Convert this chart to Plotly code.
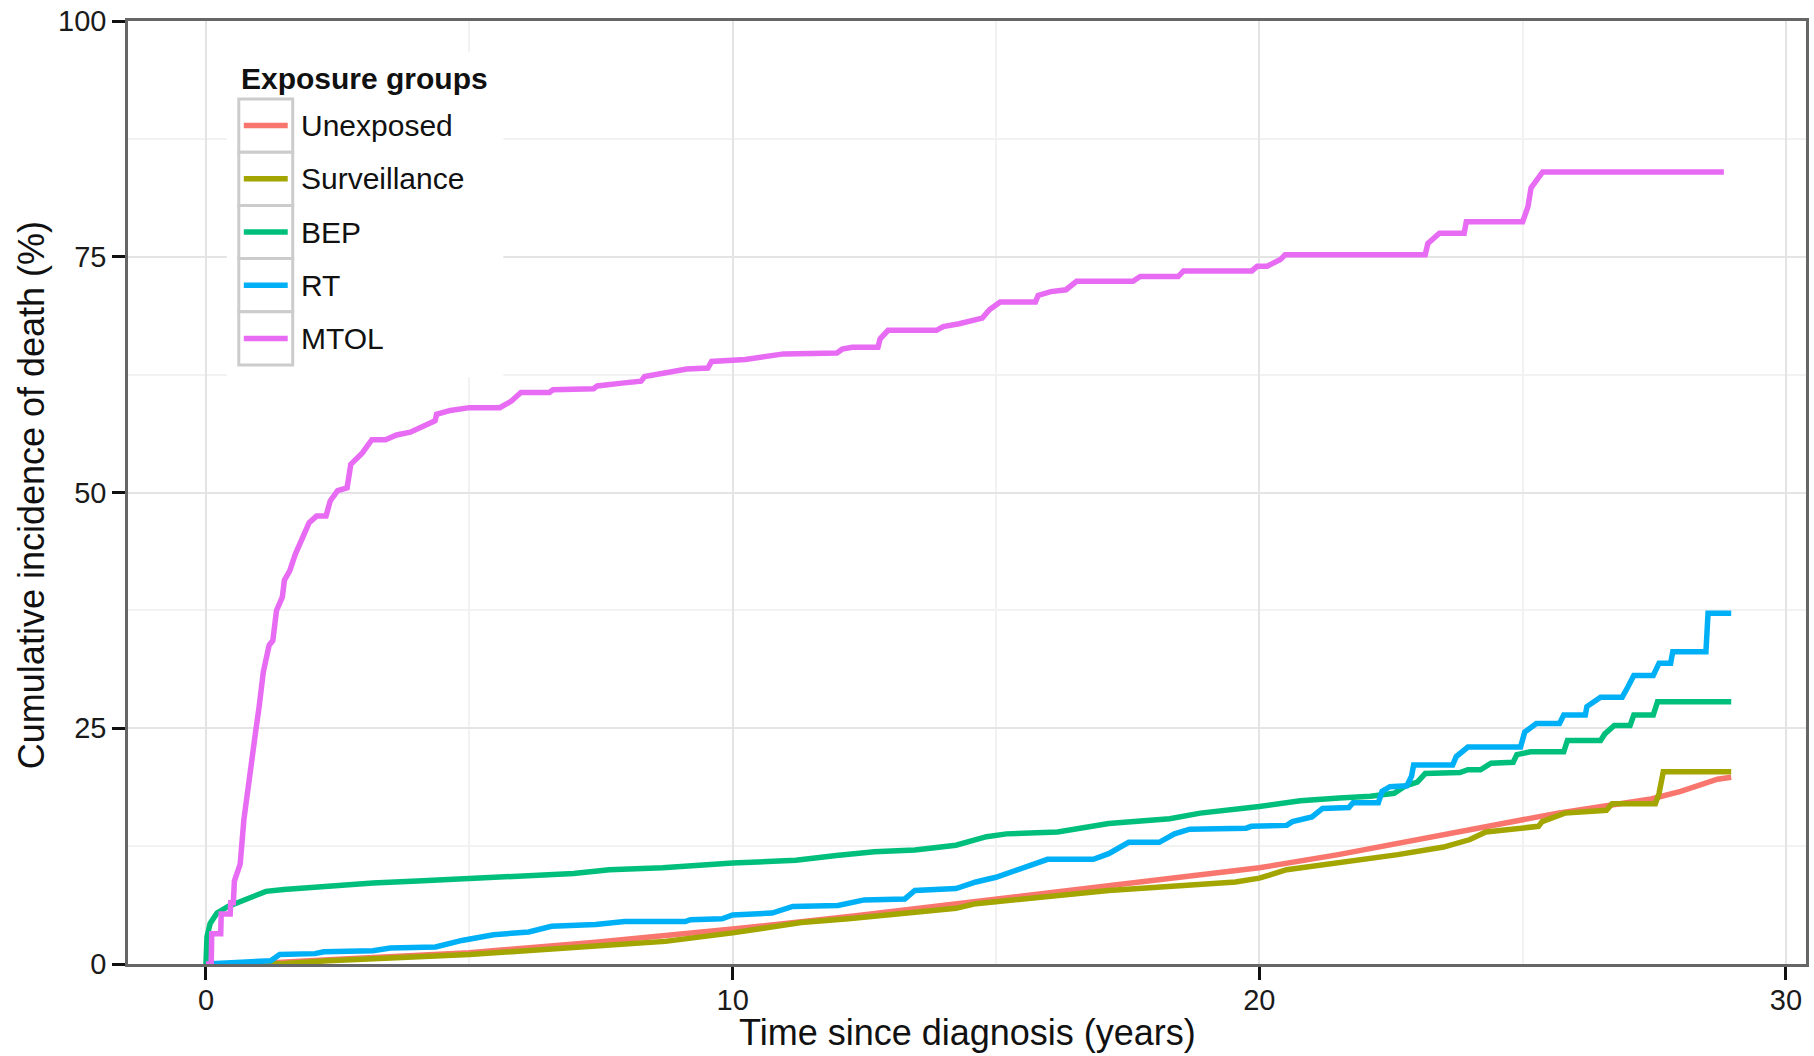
import plotly.graph_objects as go

# ---------------- data ----------------
groups = ["Unexposed", "Surveillance", "BEP", "RT", "MTOL"]
colors = ["#F8766D", "#A3A500", "#00BF7D", "#00B0F6", "#E76BF3"]

unexposed_t = [0, 1.0, 2.33, 5.0, 7.4, 10.0, 12.3, 15.0, 17.14, 20.0, 21.5, 22.6, 24.0,
               25.0, 25.67, 26.5, 27.44, 28.0, 28.7, 28.96]
unexposed_v = [0, 0.05, 0.45, 1.2, 2.3, 3.7, 5.1, 6.9, 8.3, 10.2, 11.6, 12.8, 14.2,
               15.3, 16.0, 16.7, 17.5, 18.3, 19.6, 19.8]

surveillance_t = [0, 1.5, 2.33, 5.0, 7.4, 8.72, 10.0, 11.3, 12.2, 14.24, 14.62, 17.14, 19.55,
                  20.0, 20.52, 21.97, 22.63, 23.5, 24.0, 24.3, 24.63, 25.3, 25.37, 25.8,
                  26.59, 26.7, 27.52, 27.59, 27.67, 28.96]
surveillance_v = [0, 0.05, 0.35, 1.0, 1.9, 2.4, 3.3, 4.4, 4.8, 5.9, 6.4, 7.8, 8.7,
                  9.1, 10.0, 11.0, 11.6, 12.4, 13.2, 14.0, 14.2, 14.6, 15.1, 16.0,
                  16.3, 17.0, 17.0, 18.1, 20.4, 20.4]

bep_t = [0, 0.02, 0.08, 0.21, 0.42, 0.63, 0.89, 1.14, 1.48, 2.33, 3.17, 4.02, 5.0, 6.13, 6.98,
         7.66, 8.67, 10.0, 11.2, 11.97, 12.69, 13.46, 14.24, 14.82, 15.2, 16.17, 17.14, 18.3,
         18.88, 20.0, 20.78, 21.52, 22.11, 22.56, 22.78, 23.0, 23.15, 23.81, 23.96, 24.2, 24.4,
         24.82, 24.89, 25.15, 25.78, 25.85, 26.48, 26.56, 26.74, 27.04, 27.11, 27.48, 27.56, 28.96]
bep_v = [0, 2.9, 4.3, 5.4, 6.1, 6.6, 7.1, 7.7, 7.9, 8.3, 8.6, 8.8, 9.1, 9.4, 9.6,
         10.0, 10.2, 10.7, 11.0, 11.5, 11.9, 12.1, 12.6, 13.5, 13.8, 14.0, 14.9, 15.4,
         16.0, 16.7, 17.3, 17.6, 17.8, 18.1, 18.9, 19.3, 20.2, 20.3, 20.6, 20.6, 21.3,
         21.4, 22.2, 22.5, 22.5, 23.7, 23.7, 24.4, 25.3, 25.3, 26.4, 26.4, 27.8, 27.8]

rt_t = [0, 1.23, 1.4, 2.07, 2.24, 3.17, 3.5, 4.36, 4.86, 5.46, 6.13, 6.56, 7.4, 7.95, 9.1, 9.2,
        9.8, 10.0, 10.75, 11.14, 12.0, 12.5, 13.27, 13.46, 14.24, 14.62, 15.0, 15.3, 15.59,
        15.98, 16.85, 17.14, 17.52, 18.1, 18.39, 18.68, 19.75, 19.85, 20.52, 20.63, 21.0, 21.2,
        21.7, 21.78, 22.26, 22.33, 22.48, 22.8, 22.89, 22.93, 23.67, 23.74, 23.96, 24.96, 25.04,
        25.26, 25.7, 25.78, 26.19, 26.22, 26.48, 26.89, 27.0, 27.11, 27.48, 27.59, 27.81, 27.85,
        28.48, 28.52, 28.96]
rt_v = [0, 0.35, 1.0, 1.1, 1.3, 1.4, 1.7, 1.8, 2.5, 3.1, 3.4, 4.0, 4.2, 4.5, 4.5, 4.7,
        4.8, 5.2, 5.4, 6.1, 6.2, 6.8, 6.9, 7.8, 8.0, 8.7, 9.2, 9.8, 10.3,
        11.1, 11.1, 11.7, 12.9, 12.9, 13.8, 14.3, 14.4, 14.6, 14.7, 15.1, 15.6, 16.5,
        16.6, 17.1, 17.1, 18.3, 18.8, 18.9, 19.9, 21.1, 21.1, 22.0, 23.0, 23.0, 24.6,
        25.5, 25.5, 26.4, 26.4, 27.3, 28.3, 28.3, 29.4, 30.6, 30.6, 31.9, 31.9, 33.1,
        33.1, 37.2, 37.2]

mtol_t = [0, 0.1, 0.11, 0.28, 0.29, 0.46, 0.47, 0.52, 0.54, 0.65, 0.72, 0.80, 0.87, 0.94, 1.01,
          1.09, 1.20, 1.27, 1.34, 1.45, 1.49, 1.59, 1.70, 1.81, 1.96, 2.10, 2.28, 2.36, 2.50,
          2.68, 2.75, 2.97, 3.15, 3.41, 3.62, 3.88, 4.06, 4.17, 4.35, 4.38, 4.64, 5.0, 5.58,
          5.8, 5.98, 6.52, 6.59, 7.36, 7.43, 7.9, 8.26, 8.33, 8.7, 9.13, 9.53, 9.6, 10.24,
          10.53, 10.97, 11.98, 12.08, 12.27, 12.76, 12.8, 12.95, 13.87, 14.0, 14.3, 14.74,
          14.88, 15.08, 15.75, 15.8, 16.04, 16.33, 16.53, 17.6, 17.74, 18.46, 18.56, 19.86,
          19.96, 20.15, 20.4, 20.49, 23.15, 23.2, 23.42, 23.89, 23.93, 25.0, 25.1, 25.16,
          25.38, 28.82]
mtol_v = [0, 0, 3.2, 3.2, 5.3, 5.3, 6.5, 6.5, 8.8, 10.6, 15.3, 19.0, 21.8, 24.5, 27.3,
          31.0, 33.8, 34.3, 37.5, 38.9, 40.7, 41.7, 43.5, 44.9, 46.8, 47.5, 47.5, 49.1, 50.2,
          50.5, 53.0, 54.2, 55.6, 55.6, 56.1, 56.4, 56.9, 57.2, 57.6, 58.3, 58.7, 59.0, 59.0,
          59.7, 60.6, 60.6, 60.9, 61.0, 61.3, 61.6, 61.8, 62.3, 62.7, 63.1, 63.2, 63.9, 64.1,
          64.3, 64.7, 64.8, 65.2, 65.4, 65.4, 66.3, 67.2, 67.2, 67.6, 67.9, 68.5,
          69.4, 70.2, 70.2, 70.9, 71.3, 71.5, 72.4, 72.4, 72.9, 72.9, 73.5, 73.5,
          74.0, 74.0, 74.7, 75.2, 75.2, 76.4, 77.5, 77.5, 78.7, 78.7, 80.3, 82.3,
          84.0, 84.0]

x_ticks = [0, 10, 20, 30]
y_ticks = [0, 25, 50, 75, 100]
x_title = "Time since diagnosis (years)"
y_title = "Cumulative incidence of death (%)"
legend_title = "Exposure groups"

series = [(unexposed_t, unexposed_v), (surveillance_t, surveillance_v),
          (bep_t, bep_v), (rt_t, rt_v), (mtol_t, mtol_v)]

# ---------------- layout geometry (page pixels) ----------------
W, H = 1814, 1056
PL, PR, PT, PB = 128, 1809, 21, 964  # plot area edges
FONT = "Liberation Sans, Arial, sans-serif"


def px(x):
    return (x - PL) / (PR - PL)


def py(y):
    return (PB - y) / (PB - PT)


fig = go.Figure()
for name, col, (t, v) in zip(groups, colors, series):
    fig.add_trace(go.Scatter(x=t, y=v, mode="lines", name=name,
                             line=dict(color=col, width=5.5), showlegend=False))

axis_common = dict(
    showline=True, mirror=True, linecolor="#666666", linewidth=2.5,
    ticks="outside", ticklen=13, tickwidth=3, tickcolor="#111111",
    showgrid=True, gridcolor="#E4E4E4", gridwidth=1.5, zeroline=False,
    tickfont=dict(family=FONT, size=29, color="#1a1a1a"),
)

fig.update_layout(
    width=W, height=H,
    margin=dict(l=PL, r=W - PR, t=PT, b=H - PB, pad=0),
    paper_bgcolor="white", plot_bgcolor="white",
    font=dict(family=FONT, color="#111111"),
    xaxis=dict(range=[-1.48, 30.38], tickvals=x_ticks, ticktext=[str(v) for v in x_ticks],
               minor=dict(dtick=5, tick0=0, showgrid=True, gridcolor="#F2F2F2", gridwidth=1.5),
               ticklabelstandoff=-5,
               **axis_common),
    yaxis=dict(range=[0, 100], tickvals=y_ticks, ticktext=[str(v) for v in y_ticks],
               minor=dict(dtick=12.5, tick0=0, showgrid=True, gridcolor="#F2F2F2", gridwidth=1.5),
               ticklabelstandoff=0,
               **axis_common),
    showlegend=False,
)

# axis titles
fig.add_annotation(text=x_title, xref="paper", yref="paper", x=0.5, y=py(1032),
                   xanchor="center", yanchor="middle", showarrow=False,
                   font=dict(family=FONT, size=36, color="#111111"))
fig.add_annotation(text=y_title, xref="paper", yref="paper", x=px(32), y=py(495),
                   xanchor="center", yanchor="middle", showarrow=False, textangle=-90,
                   font=dict(family=FONT, size=36, color="#111111"))

# manual legend (ggplot-style keys)
fig.add_shape(type="rect", xref="paper", yref="paper", x0=px(227), x1=px(504),
              y0=py(377), y1=py(52), fillcolor="white", line=dict(width=0), layer="above")
fig.add_annotation(text="<b>" + legend_title + "</b>", xref="paper", yref="paper",
                   x=px(239), y=py(78), xanchor="left", yanchor="middle", showarrow=False,
                   font=dict(family=FONT, size=30, color="#111111"))
key_top, key_h = 99, 53.2
for i, (name, col) in enumerate(zip(groups, colors)):
    y0 = key_top + i * key_h
    yc = y0 + key_h / 2
    fig.add_shape(type="rect", xref="paper", yref="paper", x0=px(239), x1=px(293),
                  y0=py(y0 + key_h), y1=py(y0), fillcolor="white",
                  line=dict(color="#CCCCCC", width=3), layer="above")
    fig.add_shape(type="line", xref="paper", yref="paper", x0=px(244), x1=px(288),
                  y0=py(yc), y1=py(yc), line=dict(color=col, width=5.5), layer="above")
    fig.add_annotation(text=name, xref="paper", yref="paper", x=px(299), y=py(yc),
                       xanchor="left", yanchor="middle", showarrow=False,
                       font=dict(family=FONT, size=30, color="#111111"))

fig.write_html("out.html", config={"displayModeBar": False},
               post_script="document.body.style.margin='0';document.body.style.overflow='hidden';")
